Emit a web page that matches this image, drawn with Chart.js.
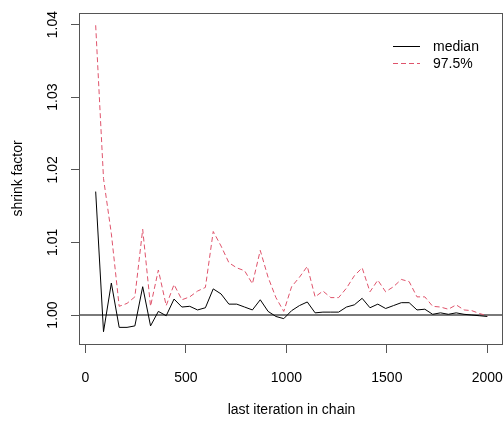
<!DOCTYPE html>
<html>
<head>
<meta charset="utf-8">
<script src="https://cdn.jsdelivr.net/npm/chart.js@4.4.1/dist/chart.umd.min.js"></script>
<style>
  html, body { margin: 0; padding: 0; background: #ffffff; }
  #c { display: block; }
</style>
</head>
<body>
<canvas id="c" width="504" height="430"></canvas>
<script>
// ---- data ----
const iterations = [51, 90, 129, 168, 207, 246, 285, 324, 363, 402, 441, 480, 519, 558, 597, 636, 675, 714, 753, 792,
  831, 870, 909, 948, 987, 1026, 1065, 1104, 1143, 1182, 1221, 1260, 1299, 1338, 1377, 1416, 1455, 1494, 1533, 1572,
  1611, 1650, 1689, 1728, 1767, 1806, 1845, 1884, 1923, 1962, 2000];

const medianValues = [1.0170, 0.9977, 1.0044, 0.9983, 0.9983, 0.9985, 1.0039, 0.9985, 1.0005, 0.9999,
  1.0022, 1.0011, 1.0012, 1.0007, 1.0010, 1.0036, 1.0029, 1.0015, 1.0015, 1.0011,
  1.0007, 1.0021, 1.0005, 0.9998, 0.9995, 1.0006, 1.0013, 1.0018, 1.0003, 1.0004,
  1.0004, 1.0004, 1.0011, 1.0014, 1.0023, 1.0010, 1.0015, 1.0009, 1.0013, 1.0017,
  1.0017, 1.0007, 1.0008, 1.0001, 1.0003, 1.0001, 1.0003, 1.0001, 1.0000, 0.9999, 0.9998];

const upperValues = [1.0399, 1.0188, 1.0112, 1.0012, 1.0016, 1.0025, 1.0118, 1.0012, 1.0062, 1.0013,
  1.0042, 1.0021, 1.0025, 1.0033, 1.0038, 1.0115, 1.0095, 1.0072, 1.0065, 1.0061,
  1.0043, 1.0089, 1.0052, 1.0024, 1.0005, 1.0039, 1.0052, 1.0067, 1.0025, 1.0033,
  1.0024, 1.0024, 1.0037, 1.0054, 1.0065, 1.0032, 1.0048, 1.0032, 1.0039, 1.0049,
  1.0046, 1.0025, 1.0025, 1.0012, 1.0011, 1.0008, 1.0014, 1.0007, 1.0006, 1.0002, 0.9999];

const xTicks = [0, 500, 1000, 1500, 2000];
const yTicks = [1.00, 1.01, 1.02, 1.03, 1.04];
const seriesNames = ['median', '97.5%'];
const referenceLevel = 1;

// ---- styling ----
const FONT = 'Liberation Sans, Arial, Helvetica, sans-serif';
const MEDIAN_COLOR = '#000000';
const UPPER_COLOR = '#DF536B';
const BOX_COLOR = '#555555';

const toPoints = vals => vals.map((v, i) => ({ x: iterations[i], y: v }));

const framePlugin = {
  id: 'frame',
  beforeDatasetsDraw(chart) {
    const { ctx, chartArea: a, scales: { y } } = chart;
    const py = y.getPixelForValue(referenceLevel);
    ctx.save();
    ctx.strokeStyle = '#7a7a7a';
    ctx.lineWidth = 2;
    ctx.beginPath();
    ctx.moveTo(a.left, py);
    ctx.lineTo(a.right, py);
    ctx.stroke();
    ctx.restore();
  },
  afterDatasetsDraw(chart) {
    const { ctx, chartArea: a } = chart;
    ctx.save();
    ctx.strokeStyle = BOX_COLOR;
    ctx.lineWidth = 1;
    ctx.strokeRect(Math.round(a.left) - 0.5, Math.round(a.top) + 0.5,
      Math.round(a.right - a.left), Math.round(a.bottom - a.top));
    // legend (top-right, inside plot)
    const lx0 = a.right - 110, lx1 = a.right - 83, tx = a.right - 70;
    const rows = [a.top + 33, a.top + 50];
    chart.data.datasets.forEach((ds, i) => {
      ctx.strokeStyle = ds.borderColor;
      ctx.lineWidth = 1;
      ctx.setLineDash(ds.borderDash || []);
      ctx.beginPath();
      ctx.moveTo(lx0, rows[i] + 0.5);
      ctx.lineTo(lx1, rows[i] + 0.5);
      ctx.stroke();
      ctx.setLineDash([]);
      ctx.fillStyle = '#000';
      ctx.font = '14px ' + FONT;
      ctx.textBaseline = 'middle';
      ctx.textAlign = 'left';
      ctx.fillText(ds.label, tx, rows[i] + 1);
    });
    ctx.restore();
  }
};

new Chart(document.getElementById('c'), {
  type: 'line',
  data: {
    datasets: [
      { label: seriesNames[0], data: toPoints(medianValues), borderColor: MEDIAN_COLOR, borderWidth: 1,
        pointRadius: 0, tension: 0, fill: false },
      { label: seriesNames[1], data: toPoints(upperValues), borderColor: UPPER_COLOR, borderWidth: 1,
        borderDash: [5, 3], pointRadius: 0, tension: 0, fill: false }
    ]
  },
  options: {
    responsive: false,
    animation: false,
    devicePixelRatio: 1,
    layout: { padding: { top: 13, right: 1, left: 0, bottom: 0 } },
    plugins: { legend: { display: false }, tooltip: { enabled: false } },
    scales: {
      x: {
        type: 'linear',
        min: -27, max: 2078,
        afterBuildTicks: s => { s.ticks = xTicks.map(v => ({ value: v })); },
        afterFit: s => { s.height = 86; s.paddingLeft = 0; s.paddingRight = 0; },
        grid: { drawOnChartArea: false, drawTicks: true, tickLength: 9, color: BOX_COLOR, tickColor: BOX_COLOR },
        border: { display: false },
        ticks: { color: '#000', padding: 17, maxRotation: 0, font: { family: FONT, size: 14 },
          callback: v => String(v) },
        title: { display: true, text: 'last iteration in chain', color: '#000',
          font: { family: FONT, size: 14 }, padding: { top: 0, bottom: 11 } }
      },
      y: {
        type: 'linear',
        min: 0.99601, max: 1.04159,
        afterBuildTicks: s => { s.ticks = yTicks.map(v => ({ value: v })); },
        afterFit: s => { s.width = 80; s.paddingTop = 0; s.paddingBottom = 0; },
        grid: { drawOnChartArea: false, drawTicks: true, tickLength: 9, color: BOX_COLOR, tickColor: BOX_COLOR },
        border: { display: false },
        ticks: { color: '#000', padding: 4, minRotation: 90, maxRotation: 90, crossAlign: 'center',
          font: { family: FONT, size: 14 }, callback: v => Number(v).toFixed(2) },
        title: { display: true, text: 'shrink factor', color: '#000',
          font: { family: FONT, size: 14 }, padding: { top: 10, bottom: 0 } }
      }
    }
  },
  plugins: [framePlugin]
});
</script>
</body>
</html>
